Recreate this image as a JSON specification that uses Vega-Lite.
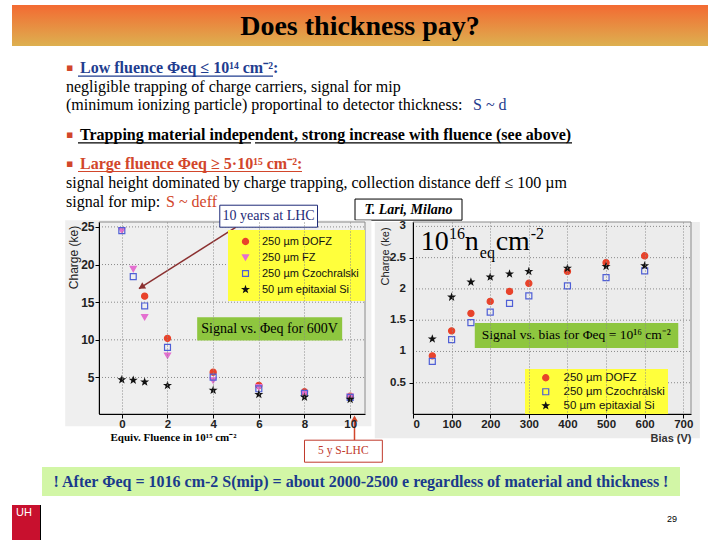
{
  "$schema": "https://vega.github.io/schema/vega-lite/v6.json",
  "background": "white",
  "padding": {"left": 12, "top": 5, "right": 0, "bottom": 0},
  "bounds": "flush",
  "spacing": 0,
  "config": {"view": {"stroke": null}, "font": "Liberation Sans", "axis": {"labelOverlap": false}},
  "vconcat": [
    {
      "width": 696,
      "height": 41,
      "data": {"values": [{"label": "Does thickness pay?"}]},
      "layer": [
        {
          "mark": {"type": "rect", "color": {"gradient": "linear", "x1": 0, "y1": 0, "x2": 0, "y2": 1, "stops": [{"offset": 0, "color": "#f36a32"}, {"offset": 1, "color": "#ddb050"}]}},
          "encoding": {
            "x": {"datum": 0, "type": "quantitative", "scale": {"domain": [0, 696], "nice": false, "zero": false}, "axis": null},
            "x2": {"datum": 696},
            "y": {"datum": 0, "type": "quantitative", "scale": {"domain": [0, 41], "reverse": true, "nice": false, "zero": false}, "axis": null},
            "y2": {"datum": 41}
          }
        },
        {
          "mark": {"type": "text", "font": "Liberation Serif", "fontSize": 28, "fontWeight": "bold", "color": "black", "baseline": "middle", "align": "center"},
          "encoding": {
            "x": {"datum": 348, "type": "quantitative"},
            "y": {"datum": 22, "type": "quantitative"},
            "text": {"field": "label"}
          }
        }
      ]
    },
    {
      "width": 696,
      "height": 176,
      "data": {"values": [
        {"line": 1.2, "col": 54, "text": "▪", "role": "bullet"},
        {"line": 1.2, "col": 68, "text": "Low fluence Φeq ≤ 10¹⁴ cm⁻²:", "role": "h-blue"},
        {"line": 2.2, "col": 54, "text": "negligible trapping of charge carriers, signal for mip", "role": "body"},
        {"line": 3.2, "col": 54, "text": "(minimum ionizing particle) proportinal to detector thickness:", "role": "body"},
        {"line": 3.2, "col": 461, "text": "S ~ d", "role": "acc-blue"},
        {"line": 4.8, "col": 54, "text": "▪", "role": "bullet"},
        {"line": 4.8, "col": 68, "text": "Trapping material independent, strong increase with fluence (see above)", "role": "h-black"},
        {"line": 6.35, "col": 54, "text": "▪", "role": "bullet"},
        {"line": 6.35, "col": 68, "text": "Large fluence Φeq ≥ 5·10¹⁵ cm⁻²:", "role": "h-red"},
        {"line": 7.4, "col": 54, "text": "signal height dominated by charge trapping, collection distance deff ≤ 100 µm", "role": "body"},
        {"line": 8.45, "col": 54, "text": "signal for mip:", "role": "body"},
        {"line": 8.45, "col": 154, "text": "S ~ deff", "role": "acc-red"}
      ]},
      "layer": [
        {
          "transform": [{"filter": "datum.role == 'body' || datum.role == 'acc-blue' || datum.role == 'acc-red'"}],
          "mark": {"type": "text", "font": "Liberation Serif", "fontSize": 16, "align": "left", "baseline": "middle"},
          "encoding": {
            "x": {"field": "col", "type": "quantitative", "scale": {"domain": [0, 696], "nice": false, "zero": false}, "axis": null},
            "y": {"field": "line", "type": "quantitative", "scale": {"domain": [0, 9.51], "reverse": true, "nice": false, "zero": false}, "axis": null},
            "text": {"field": "text"},
            "color": {"field": "role", "type": "nominal", "scale": {"domain": ["body", "acc-blue", "acc-red", "h-blue", "h-black", "h-red", "bullet"], "range": ["#000000", "#1f3d8f", "#d2462b", "#1f3d8f", "#000000", "#d2462b", "#d2462b"]}, "legend": null}
          }
        },
        {
          "transform": [{"filter": "datum.role == 'h-blue' || datum.role == 'h-black' || datum.role == 'h-red'"}],
          "mark": {"type": "text", "font": "Liberation Serif", "fontSize": 16, "fontWeight": "bold", "align": "left", "baseline": "middle"},
          "encoding": {
            "x": {"field": "col", "type": "quantitative"},
            "y": {"field": "line", "type": "quantitative"},
            "text": {"field": "text"},
            "color": {"field": "role", "type": "nominal", "legend": null}
          }
        },
        {
          "transform": [{"filter": "datum.role == 'bullet'"}],
          "mark": {"type": "text", "font": "DejaVu Sans", "fontSize": 11, "align": "left", "baseline": "middle"},
          "encoding": {
            "x": {"field": "col", "type": "quantitative"},
            "y": {"field": "line", "type": "quantitative"},
            "text": {"field": "text"},
            "color": {"field": "role", "type": "nominal", "legend": null}
          }
        },
        {
          "data": {"values": [
            {"line": 1.2, "col": 66, "col2": 261, "role": "h-blue"},
            {"line": 4.8, "col": 66, "col2": 239, "role": "h-black"},
            {"line": 4.8, "col": 243, "col2": 560, "role": "h-black"},
            {"line": 6.35, "col": 66, "col2": 290, "role": "h-red"}
          ]},
          "mark": {"type": "rule", "strokeWidth": 1.2, "yOffset": 8},
          "encoding": {
            "x": {"field": "col", "type": "quantitative"},
            "x2": {"field": "col2"},
            "y": {"field": "line", "type": "quantitative"},
            "color": {"field": "role", "type": "nominal", "legend": null}
          }
        },
        {
          "data": {"values": [{"label": "T. Lari, Milano"}]},
          "mark": {"type": "rect", "fill": "white", "stroke": "black", "strokeWidth": 1},
          "encoding": {
            "x": {"datum": 343, "type": "quantitative"}, "x2": {"datum": 450},
            "y": {"datum": 8.27, "type": "quantitative"}, "y2": {"datum": 9.41}
          }
        },
        {
          "data": {"values": [{"label": "T. Lari, Milano"}]},
          "mark": {"type": "text", "font": "Liberation Serif", "fontSize": 14, "fontWeight": "bold", "fontStyle": "italic", "color": "black", "align": "center", "baseline": "middle"},
          "encoding": {
            "x": {"datum": 396.5, "type": "quantitative"},
            "y": {"datum": 8.84, "type": "quantitative"},
            "text": {"field": "label"}
          }
        }
      ]
    },
    {
      "width": 679,
      "height": 192,
      "resolve": {
        "scale": {"x": "independent", "y": "independent", "shape": "independent", "fill": "independent", "stroke": "independent", "size": "independent"},
        "axis": {"x": "independent", "y": "independent"},
        "legend": {"shape": "independent", "fill": "independent", "stroke": "independent", "size": "independent"}
      },
      "layer": [
        {
          "layer": [
            {
              "data": {"values": [{}]},
              "mark": {"type": "rect", "color": "#efefef"},
              "encoding": {
                "x": {"datum": -2.48, "type": "quantitative"}, "x2": {"datum": 10.93},
                "y": {"datum": 25.89, "type": "quantitative"}, "y2": {"datum": -1.47}
              }
            },
            {
              "data": {"values": [{"g": 5}, {"g": 10}, {"g": 15}, {"g": 20}, {"g": 25}]},
              "mark": {"type": "rule", "color": "#8a8a8a", "strokeDash": [1, 2], "strokeWidth": 1},
              "encoding": {
                "x": {"datum": -1, "type": "quantitative"}, "x2": {"datum": 10.65},
                "y": {"field": "g", "type": "quantitative"}
              }
            },
            {
              "data": {"values": [{}]},
              "mark": {"type": "rect", "fill": null, "fillOpacity": 0, "stroke": "#8a8a8a", "strokeWidth": 1},
              "encoding": {
                "x": {"datum": -1, "type": "quantitative"}, "x2": {"datum": 10.65},
                "y": {"datum": 0.15, "type": "quantitative"}, "y2": {"datum": 25.65}
              }
            },
            {
              "data": {"values": [
                {"fluence": 1, "charge": 15.8, "sample": "250 µm DOFZ"},
                {"fluence": 2, "charge": 10.2, "sample": "250 µm DOFZ"},
                {"fluence": 4, "charge": 5.7, "sample": "250 µm DOFZ"},
                {"fluence": 6, "charge": 3.95, "sample": "250 µm DOFZ"},
                {"fluence": 8, "charge": 3.1, "sample": "250 µm DOFZ"},
                {"fluence": 10, "charge": 2.5, "sample": "250 µm DOFZ"},
                {"fluence": 0, "charge": 24.5, "sample": "250 µm FZ"},
                {"fluence": 0.5, "charge": 19.4, "sample": "250 µm FZ"},
                {"fluence": 1, "charge": 13.0, "sample": "250 µm FZ"},
                {"fluence": 2, "charge": 7.9, "sample": "250 µm FZ"},
                {"fluence": 4, "charge": 4.6, "sample": "250 µm FZ"},
                {"fluence": 6, "charge": 3.7, "sample": "250 µm FZ"},
                {"fluence": 8, "charge": 2.85, "sample": "250 µm FZ"},
                {"fluence": 10, "charge": 2.45, "sample": "250 µm FZ"},
                {"fluence": 0, "charge": 24.5, "sample": "250 µm Czochralski"},
                {"fluence": 0.5, "charge": 18.4, "sample": "250 µm Czochralski"},
                {"fluence": 1, "charge": 14.5, "sample": "250 µm Czochralski"},
                {"fluence": 2, "charge": 9.0, "sample": "250 µm Czochralski"},
                {"fluence": 4, "charge": 5.05, "sample": "250 µm Czochralski"},
                {"fluence": 6, "charge": 3.5, "sample": "250 µm Czochralski"},
                {"fluence": 8, "charge": 2.9, "sample": "250 µm Czochralski"},
                {"fluence": 10, "charge": 2.35, "sample": "250 µm Czochralski"},
                {"fluence": 0, "charge": 4.7, "sample": "50 µm epitaxial Si"},
                {"fluence": 0.5, "charge": 4.65, "sample": "50 µm epitaxial Si"},
                {"fluence": 1, "charge": 4.4, "sample": "50 µm epitaxial Si"},
                {"fluence": 2, "charge": 3.95, "sample": "50 µm epitaxial Si"},
                {"fluence": 4, "charge": 3.3, "sample": "50 µm epitaxial Si"},
                {"fluence": 6, "charge": 2.75, "sample": "50 µm epitaxial Si"},
                {"fluence": 8, "charge": 2.4, "sample": "50 µm epitaxial Si"},
                {"fluence": 10, "charge": 2.1, "sample": "50 µm epitaxial Si"}
              ]},
              "mark": {"type": "point", "strokeWidth": 1.2, "opacity": 1},
              "encoding": {
                "x": {"field": "fluence", "type": "quantitative", "scale": {"domain": [-1, 10.65], "range": [87, 353], "nice": false, "zero": false},
                  "axis": {"orient": "bottom", "values": [0, 2, 4, 6, 8, 10], "format": "d", "labelOverlap": false, "grid": true, "gridColor": "#8a8a8a", "gridDash": [1, 2], "domainColor": "black", "tickColor": "black", "tickSize": 4, "labelFont": "Liberation Sans", "labelFontSize": 11.5, "labelFontWeight": "bold", "labelColor": "#222", "labelPadding": 0, "title": "Equiv. Fluence in 10¹⁵ cm⁻²", "titleFont": "Liberation Serif", "titleFontSize": 11, "titleFontWeight": "bold", "titleColor": "black", "titleX": 98, "titleY": 23, "titleAlign": "left", "titleBaseline": "middle", "zindex": 1}},
                "y": {"field": "charge", "type": "quantitative", "scale": {"domain": [0.15, 25.65], "nice": false, "zero": false},
                  "axis": {"orient": "left", "offset": -87, "values": [5, 10, 15, 20, 25], "format": "d", "labelOverlap": false, "grid": false, "domainColor": "black", "tickColor": "black", "tickSize": 4, "labelFont": "Liberation Sans", "labelFontSize": 12, "labelFontWeight": "bold", "labelColor": "#222", "labelPadding": 1, "title": "Charge (ke)", "titleFont": "Liberation Sans", "titleFontSize": 12, "titleFontWeight": "normal", "titleColor": "#222", "titleX": -26, "titleY": 35, "titleAlign": "center", "titleBaseline": "middle", "zindex": 1}},
                "shape": {"field": "sample", "type": "nominal", "scale": {"domain": ["250 µm DOFZ", "250 µm FZ", "250 µm Czochralski", "50 µm epitaxial Si"], "range": ["circle", "triangle-down", "square", "M0,-1L0.235,-0.324L0.951,-0.309L0.38,0.124L0.588,0.809L0,0.4L-0.588,0.809L-0.38,0.124L-0.951,-0.309L-0.235,-0.324Z"]},
                  "legend": {"orient": "none", "legendX": 216, "legendY": 8, "title": null, "fillColor": "#ffff3c", "padding": 6, "rowPadding": 4, "symbolOffset": 6, "labelOffset": 11, "labelFont": "Liberation Sans", "labelFontSize": 11, "labelColor": "#111", "symbolStrokeWidth": 1.2}},
                "size": {"field": "sample", "type": "nominal", "scale": {"domain": ["250 µm DOFZ", "250 µm FZ", "250 µm Czochralski", "50 µm epitaxial Si"], "range": [38, 34, 34, 20]}, "legend": {"orient": "none", "legendX": 216, "legendY": 8, "title": null}},
                "fill": {"field": "sample", "type": "nominal", "scale": {"domain": ["250 µm DOFZ", "250 µm FZ", "250 µm Czochralski", "50 µm epitaxial Si"], "range": ["#e8432b", "#e46fd0", "transparent", "#111111"]}, "legend": {"orient": "none", "legendX": 216, "legendY": 8, "title": null}},
                "stroke": {"field": "sample", "type": "nominal", "scale": {"domain": ["250 µm DOFZ", "250 µm FZ", "250 µm Czochralski", "50 µm epitaxial Si"], "range": ["#e8432b", "#e46fd0", "#4f5fd6", "#111111"]}, "legend": {"orient": "none", "legendX": 216, "legendY": 8, "title": null}}
              }
            },
            {
              "data": {"values": [{}]},
              "mark": {"type": "rect", "color": "#8ec63f"},
              "encoding": {
                "x": {"datum": 3.3, "type": "quantitative"}, "x2": {"datum": 9.65},
                "y": {"datum": 9.9, "type": "quantitative"}, "y2": {"datum": 13.0}
              }
            },
            {
              "data": {"values": [{"label": "Signal vs. Φeq for 600V"}]},
              "mark": {"type": "text", "font": "Liberation Serif", "fontSize": 14, "color": "black", "align": "center", "baseline": "middle"},
              "encoding": {"x": {"datum": 6.47, "type": "quantitative"}, "y": {"datum": 11.45, "type": "quantitative"}, "text": {"field": "label"}}
            },
            {
              "data": {"values": [{}]},
              "mark": {"type": "rule", "color": "#8b3030", "strokeWidth": 1.5},
              "encoding": {
                "x": {"datum": 5.0, "type": "quantitative"}, "x2": {"datum": 0.75},
                "y": {"datum": 24.96, "type": "quantitative"}, "y2": {"datum": 16.8}
              }
            },
            {
              "data": {"values": [{}]},
              "mark": {"type": "point", "shape": "triangle-up", "filled": true, "color": "#8b3030", "size": 55, "angle": 238, "opacity": 1},
              "encoding": {"x": {"datum": 0.86, "type": "quantitative"}, "y": {"datum": 17.0, "type": "quantitative"}}
            },
            {
              "data": {"values": [{}]},
              "mark": {"type": "rect", "fill": "white", "stroke": "#1e2a78", "strokeWidth": 1},
              "encoding": {
                "x": {"datum": 4.29, "type": "quantitative"}, "x2": {"datum": 8.57},
                "y": {"datum": 27.88, "type": "quantitative"}, "y2": {"datum": 24.96}
              }
            },
            {
              "data": {"values": [{"label": "10 years at LHC"}]},
              "mark": {"type": "text", "font": "Liberation Serif", "fontSize": 14, "color": "#1e2a78", "align": "center", "baseline": "middle"},
              "encoding": {"x": {"datum": 6.43, "type": "quantitative"}, "y": {"datum": 26.42, "type": "quantitative"}, "text": {"field": "label"}}
            },
            {
              "data": {"values": [{}]},
              "mark": {"type": "rule", "color": "#d2462b", "strokeWidth": 1.5},
              "encoding": {
                "x": {"datum": 10.19, "type": "quantitative"},
                "y": {"datum": -3.33, "type": "quantitative"}, "y2": {"datum": -0.3}
              }
            },
            {
              "data": {"values": [{}]},
              "mark": {"type": "point", "shape": "triangle-up", "filled": true, "color": "#d2462b", "size": 45, "opacity": 1},
              "encoding": {"x": {"datum": 10.19, "type": "quantitative"}, "y": {"datum": -0.45, "type": "quantitative"}}
            },
            {
              "data": {"values": [{}]},
              "mark": {"type": "rect", "fill": "white", "stroke": "#c0392b", "strokeWidth": 1},
              "encoding": {
                "x": {"datum": 8.0, "type": "quantitative"}, "x2": {"datum": 11.41},
                "y": {"datum": -3.33, "type": "quantitative"}, "y2": {"datum": -6.25}
              }
            },
            {
              "data": {"values": [{"label": "5 y S-LHC"}]},
              "mark": {"type": "text", "font": "Liberation Serif", "fontSize": 11.5, "color": "#c0392b", "align": "center", "baseline": "middle"},
              "encoding": {"x": {"datum": 9.7, "type": "quantitative"}, "y": {"datum": -4.79, "type": "quantitative"}, "text": {"field": "label"}}
            }
          ]
        },
        {
          "layer": [
            {
              "data": {"values": [{}]},
              "mark": {"type": "rect", "color": "#ececec"},
              "encoding": {
                "x": {"datum": -99, "type": "quantitative"}, "x2": {"datum": 743},
                "y": {"datum": 3.07, "type": "quantitative"}, "y2": {"datum": -0.386}
              }
            },
            {
              "data": {"values": [{"g": 0.5}, {"g": 1}, {"g": 1.5}, {"g": 2}, {"g": 2.5}, {"g": 3}]},
              "layer": [
                {
                  "mark": {"type": "rule", "color": "#8a8a8a", "strokeDash": [1, 2], "strokeWidth": 1},
                  "encoding": {
                    "x": {"datum": 0, "type": "quantitative"}, "x2": {"datum": 720},
                    "y": {"field": "g", "type": "quantitative"}
                  }
                },
                {
                  "mark": {"type": "text", "font": "Liberation Sans", "fontSize": 11.5, "fontWeight": "bold", "color": "#222", "align": "right", "baseline": "middle", "dx": -7},
                  "encoding": {
                    "x": {"datum": 0, "type": "quantitative"},
                    "y": {"field": "g", "type": "quantitative"},
                    "text": {"field": "g", "type": "quantitative", "format": "~g"}
                  }
                }
              ]
            },
            {
              "data": {"values": [{}]},
              "mark": {"type": "rect", "fill": null, "fillOpacity": 0, "stroke": "#8a8a8a", "strokeWidth": 1},
              "encoding": {
                "x": {"datum": 0, "type": "quantitative"}, "x2": {"datum": 720},
                "y": {"datum": 0, "type": "quantitative"}, "y2": {"datum": 3.07}
              }
            },
            {
              "data": {"values": [
                {"bias": 50, "charge": 0.93, "sample": "250 µm DOFZ"},
                {"bias": 100, "charge": 1.33, "sample": "250 µm DOFZ"},
                {"bias": 150, "charge": 1.61, "sample": "250 µm DOFZ"},
                {"bias": 200, "charge": 1.80, "sample": "250 µm DOFZ"},
                {"bias": 250, "charge": 1.96, "sample": "250 µm DOFZ"},
                {"bias": 300, "charge": 2.09, "sample": "250 µm DOFZ"},
                {"bias": 400, "charge": 2.28, "sample": "250 µm DOFZ"},
                {"bias": 500, "charge": 2.42, "sample": "250 µm DOFZ"},
                {"bias": 600, "charge": 2.53, "sample": "250 µm DOFZ"},
                {"bias": 50, "charge": 0.84, "sample": "250 µm Czochralski"},
                {"bias": 100, "charge": 1.19, "sample": "250 µm Czochralski"},
                {"bias": 150, "charge": 1.46, "sample": "250 µm Czochralski"},
                {"bias": 200, "charge": 1.63, "sample": "250 µm Czochralski"},
                {"bias": 250, "charge": 1.77, "sample": "250 µm Czochralski"},
                {"bias": 300, "charge": 1.89, "sample": "250 µm Czochralski"},
                {"bias": 400, "charge": 2.05, "sample": "250 µm Czochralski"},
                {"bias": 500, "charge": 2.18, "sample": "250 µm Czochralski"},
                {"bias": 600, "charge": 2.29, "sample": "250 µm Czochralski"},
                {"bias": 50, "charge": 1.20, "sample": "50 µm epitaxial Si"},
                {"bias": 100, "charge": 1.87, "sample": "50 µm epitaxial Si"},
                {"bias": 150, "charge": 2.11, "sample": "50 µm epitaxial Si"},
                {"bias": 200, "charge": 2.19, "sample": "50 µm epitaxial Si"},
                {"bias": 250, "charge": 2.24, "sample": "50 µm epitaxial Si"},
                {"bias": 300, "charge": 2.28, "sample": "50 µm epitaxial Si"},
                {"bias": 400, "charge": 2.33, "sample": "50 µm epitaxial Si"},
                {"bias": 500, "charge": 2.36, "sample": "50 µm epitaxial Si"},
                {"bias": 600, "charge": 2.37, "sample": "50 µm epitaxial Si"}
              ]},
              "mark": {"type": "point", "strokeWidth": 1.2, "opacity": 1},
              "encoding": {
                "x": {"field": "bias", "type": "quantitative", "scale": {"domain": [0, 720], "range": [401, 679], "nice": false, "zero": false},
                  "axis": {"orient": "bottom", "values": [0, 100, 200, 300, 400, 500, 600, 700], "format": "d", "labelOverlap": false, "grid": true, "gridColor": "#8a8a8a", "gridDash": [1, 2], "domainColor": "black", "tickColor": "black", "tickSize": 4, "labelFont": "Liberation Sans", "labelFontSize": 11.5, "labelFontWeight": "bold", "labelColor": "#222", "labelPadding": 0, "title": "Bias (V)", "titleFont": "Liberation Sans", "titleFontSize": 11, "titleFontWeight": "bold", "titleColor": "#333", "titleX": 679, "titleY": 24, "titleAlign": "right", "titleBaseline": "middle", "zindex": 1}},
                "y": {"field": "charge", "type": "quantitative", "scale": {"domain": [0, 3.07], "nice": false, "zero": false},
                  "axis": {"orient": "left", "offset": -401, "values": [0.5, 1, 1.5, 2, 2.5, 3], "labels": false, "grid": false, "domainColor": "black", "tickColor": "black", "tickSize": 4, "title": "Charge (ke)", "titleFont": "Liberation Sans", "titleFontSize": 11, "titleFontWeight": "normal", "titleColor": "#222", "titleX": -28, "titleY": 34, "titleAlign": "center", "titleBaseline": "middle", "zindex": 1}},
                "shape": {"field": "sample", "type": "nominal", "scale": {"domain": ["250 µm DOFZ", "250 µm Czochralski", "50 µm epitaxial Si"], "range": ["circle", "square", "M0,-1L0.235,-0.324L0.951,-0.309L0.38,0.124L0.588,0.809L0,0.4L-0.588,0.809L-0.38,0.124L-0.951,-0.309L-0.235,-0.324Z"]},
                  "legend": {"orient": "none", "legendX": 513, "legendY": 147, "title": null, "fillColor": "#ffff3c", "padding": 3, "rowPadding": 1, "symbolOffset": 12, "labelOffset": 12, "labelFont": "Liberation Sans", "labelFontSize": 11.5, "labelColor": "#111", "symbolStrokeWidth": 1.2}},
                "size": {"field": "sample", "type": "nominal", "scale": {"domain": ["250 µm DOFZ", "250 µm Czochralski", "50 µm epitaxial Si"], "range": [38, 34, 20]}, "legend": {"orient": "none", "legendX": 513, "legendY": 147, "title": null}},
                "fill": {"field": "sample", "type": "nominal", "scale": {"domain": ["250 µm DOFZ", "250 µm Czochralski", "50 µm epitaxial Si"], "range": ["#e8432b", "transparent", "#111111"]}, "legend": {"orient": "none", "legendX": 513, "legendY": 147, "title": null}},
                "stroke": {"field": "sample", "type": "nominal", "scale": {"domain": ["250 µm DOFZ", "250 µm Czochralski", "50 µm epitaxial Si"], "range": ["#e8432b", "#4f5fd6", "#111111"]}, "legend": {"orient": "none", "legendX": 513, "legendY": 147, "title": null}}
              }
            },
            {
              "data": {"values": [{}]},
              "mark": {"type": "rect", "color": "#8ec63f"},
              "encoding": {
                "x": {"datum": 160, "type": "quantitative"}, "x2": {"datum": 687},
                "y": {"datum": 1.056, "type": "quantitative"}, "y2": {"datum": 1.457}
              }
            },
            {
              "data": {"values": [{"label": "Signal vs. bias for Φeq = 10¹⁶ cm⁻²"}]},
              "mark": {"type": "text", "font": "Liberation Serif", "fontSize": 13.5, "color": "black", "align": "center", "baseline": "middle"},
              "encoding": {"x": {"datum": 423, "type": "quantitative"}, "y": {"datum": 1.256, "type": "quantitative"}, "text": {"field": "label"}}
            },
            {
              "data": {"values": [
                {"label": "10", "bias": 20, "charge": 2.627},
                {"label": "n", "bias": 134, "charge": 2.627},
                {"label": "cm", "bias": 214, "charge": 2.627}
              ]},
              "mark": {"type": "text", "font": "Liberation Serif", "fontSize": 28, "color": "black", "align": "left", "baseline": "alphabetic"},
              "encoding": {"x": {"field": "bias", "type": "quantitative"}, "y": {"field": "charge", "type": "quantitative"}, "text": {"field": "label"}}
            },
            {
              "data": {"values": [
                {"label": "16", "bias": 93, "charge": 2.80},
                {"label": "eq", "bias": 173, "charge": 2.49},
                {"label": "-2", "bias": 305, "charge": 2.80}
              ]},
              "mark": {"type": "text", "font": "Liberation Serif", "fontSize": 16, "color": "black", "align": "left", "baseline": "alphabetic"},
              "encoding": {"x": {"field": "bias", "type": "quantitative"}, "y": {"field": "charge", "type": "quantitative"}, "text": {"field": "label"}}
            }
          ]
        }
      ]
    },
    {
      "width": 696,
      "height": 126,
      "layer": [
        {
          "data": {"values": [{}]},
          "mark": {"type": "rect", "color": "#d2f6a6"},
          "encoding": {
            "x": {"datum": 30, "type": "quantitative", "scale": {"domain": [0, 696], "nice": false, "zero": false}, "axis": null},
            "x2": {"datum": 668},
            "y": {"datum": 53, "type": "quantitative", "scale": {"domain": [0, 126], "reverse": true, "nice": false, "zero": false}, "axis": null},
            "y2": {"datum": 82}
          }
        },
        {
          "data": {"values": [{"label": "! After Φeq = 1016 cm-2 S(mip) = about 2000-2500 e regardless of material and thickness !"}]},
          "mark": {"type": "text", "font": "Liberation Serif", "fontSize": 16, "fontWeight": "bold", "color": "#1a3a8c", "align": "center", "baseline": "middle"},
          "encoding": {"x": {"datum": 349, "type": "quantitative"}, "y": {"datum": 67.5, "type": "quantitative"}, "text": {"field": "label"}}
        },
        {
          "data": {"values": [{}]},
          "mark": {"type": "rect", "color": "#c8102e"},
          "encoding": {
            "x": {"datum": 0, "type": "quantitative"}, "x2": {"datum": 28},
            "y": {"datum": 91, "type": "quantitative"}, "y2": {"datum": 126}
          }
        },
        {
          "data": {"values": [{}]},
          "mark": {"type": "rule", "color": "black", "strokeWidth": 1},
          "encoding": {
            "x": {"datum": 28.5, "type": "quantitative"},
            "y": {"datum": 91, "type": "quantitative"}, "y2": {"datum": 126}
          }
        },
        {
          "data": {"values": [{"label": "UH"}]},
          "mark": {"type": "text", "font": "Liberation Sans", "fontSize": 11, "color": "white", "align": "center", "baseline": "middle"},
          "encoding": {"x": {"datum": 12, "type": "quantitative"}, "y": {"datum": 99, "type": "quantitative"}, "text": {"field": "label"}}
        },
        {
          "data": {"values": [{"label": "29"}]},
          "mark": {"type": "text", "font": "Liberation Sans", "fontSize": 9, "color": "black", "align": "center", "baseline": "middle"},
          "encoding": {"x": {"datum": 660, "type": "quantitative"}, "y": {"datum": 105, "type": "quantitative"}, "text": {"field": "label"}}
        }
      ]
    }
  ]
}
